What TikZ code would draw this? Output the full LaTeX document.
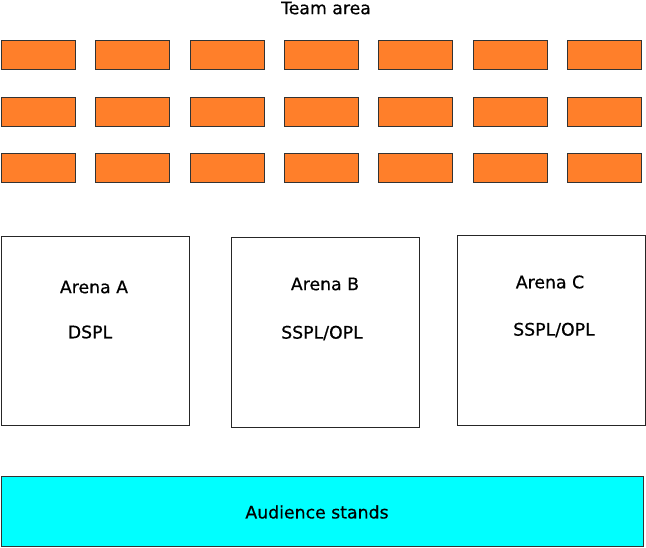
\documentclass[tikz,border=0pt]{standalone}
\usepackage{fontspec}
\setmainfont{DejaVu Sans}[FakeBold=0.6]
\usetikzlibrary{positioning,calc}
\definecolor{desk}{RGB}{255,127,42}
\definecolor{stands}{RGB}{0,255,255}

\begin{document}
\begin{tikzpicture}[
      x=1pt,y=-1pt,
      desk/.style={draw=black!80,fill=desk,minimum width=74pt,
        minimum height=29pt,inner sep=0pt,anchor=north west},
      arena/.style={draw=black!85,fill=white,anchor=north west,
        minimum width=188pt,minimum height=189pt,inner sep=0pt},
      lbl/.style={font=\fontsize{17.3}{20}\selectfont,inner sep=0pt}
    ]
      \useasboundingbox (0,0) rectangle (646,548);

      \node[lbl](team) at (326,8) {Team area};

      % rows of team tables
      \foreach \r/\y in {1/40,2/97,3/153}{
        \foreach \c in {1,...,7}{
          \node[desk](d\r\c) at ({1+(\c-1)*94.3},\y) {};
        }
      }

      \node[arena](arA) at (1,236) {};
      \node[arena](arB) at (230.5,237.5) {};
      \node[arena](arC) at (456.5,235.5) {};

      \node[lbl](nA) at (94,287) {Arena A};
      \node[lbl](lA) at (90,332) {DSPL};
      \node[lbl](nB) at (325,284) {Arena B};
      \node[lbl](lB) at (322,333) {SSPL/OPL};
      \node[lbl](nC) at (550,282) {Arena C};
      \node[lbl](lC) at (554,330) {SSPL/OPL};

      \node[draw=black!80,fill=stands,anchor=north west,inner sep=0pt,
        minimum width=642pt,minimum height=70pt](aud) at (1,476) {};
      \node[lbl] at (317,512) {Audience stands};
    \end{tikzpicture}
\end{document}
